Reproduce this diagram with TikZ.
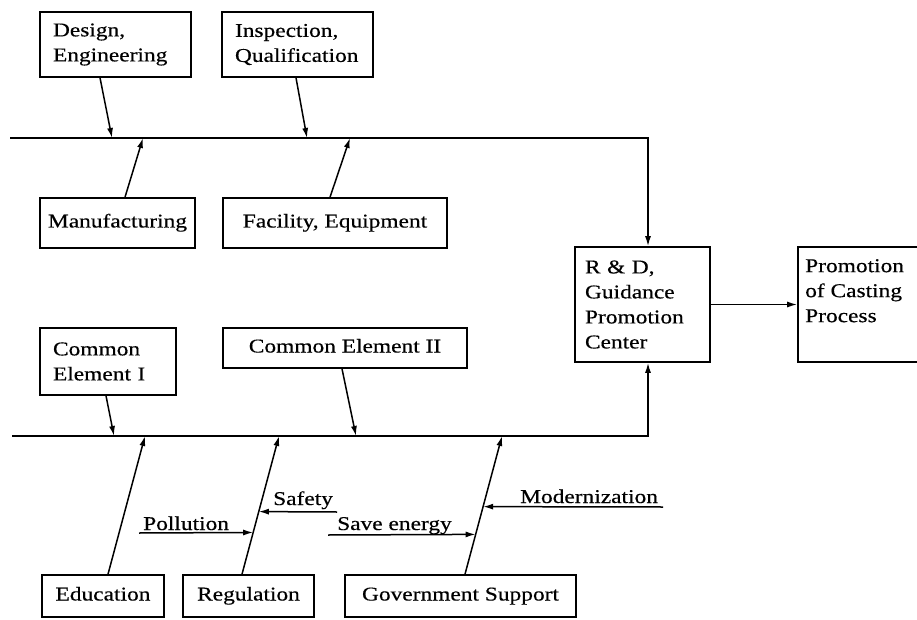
\documentclass[tikz,border=0pt]{standalone}
\usepackage{fontspec}
\setmainfont[FakeStretch=1.2,FakeBold=0.4]{Liberation Serif}
\usetikzlibrary{arrows.meta}
\begin{document}
\begin{tikzpicture}[x=1pt,y=-1pt,
  box/.style={draw, line width=1.6pt, inner sep=0pt, font=\fontsize{19.5}{25}\selectfont},
  one/.style={text height=13.5pt, text depth=4.5pt},
  lbl/.style={inner sep=0pt, anchor=base west, font=\fontsize{19.5}{25}\selectfont},
  ln/.style={line width=1.5pt},
  arr/.style={ln, -{Latex[length=10pt,width=6pt]}}]
\useasboundingbox (0,0) rectangle (917,620);
\clip (0,0) rectangle (917,620);
\fill[white] (0,0) rectangle (917,620);

% boxes
\node[box, minimum width=151pt, minimum height=65pt, text width=125pt, align=left] (des) at (115.5,44.5) {Design,\\Engineering};
\node[box, minimum width=151pt, minimum height=65pt, text width=125pt, align=left] (insp) at (297.5,44.5) {Inspection,\\Qualification};
\node[box, one, minimum width=155pt, minimum height=50pt] (man) at (117.5,223) {Manufacturing};
\node[box, one, minimum width=224pt, minimum height=50pt] (fac) at (335,223) {Facility, Equipment};
\node[box, minimum width=136pt, minimum height=67pt, text width=110pt, align=left] (ce1) at (108,361.5) {Common\\Element I};
\node[box, one, minimum width=244pt, minimum height=40pt] (ce2) at (345,348) {Common Element II};
\node[box, one, minimum width=122pt, minimum height=42pt] (edu) at (103,596) {Education};
\node[box, one, minimum width=131pt, minimum height=42pt] (reg) at (248.5,596) {Regulation};
\node[box, one, minimum width=231pt, minimum height=42pt] (gov) at (460.5,596) {Government Support};
\node[box, minimum width=135pt, minimum height=115pt, text width=115pt, align=left] (rd) at (642.5,304.5) {R \& D,\\Guidance\\Promotion\\Center};
\node[box, minimum width=142pt, minimum height=115pt] (prombox) at (869,304.5) {};
\node[lbl, anchor=north west, align=left] (promtxt) at (805,259) {Promotion\\of Casting\\Process};

% spines
\coordinate (ts) at (10,138);
\coordinate (tc) at (648,138);
\draw[arr] (ts) -- (tc) -- (tc |- rd.north);
\coordinate (bs) at (12,436);
\coordinate (bc) at (648,436);
\draw[arr] (bs) -- (bc) -- (bc |- rd.south);

\draw[arr] (rd.east) -- (rd.east -| prombox.west);

% branch junctions
\coordinate (jd) at (112,138);
\coordinate (jm) at (143,138);
\coordinate (ji) at (307,138);
\coordinate (jf) at (350,138);
\coordinate (jc1) at (114,436);
\coordinate (jc2) at (356,436);
\coordinate (je) at (145,436);
\coordinate (jr) at (279,436);
\coordinate (jg) at (502,436);

\draw[arr] ([xshift=-15.5pt]des.south) -- (jd);
\draw[arr] ([xshift=7.5pt]man.north) -- (jm);
\draw[arr] ([xshift=-1.5pt]insp.south) -- (ji);
\draw[arr] ([xshift=-5pt]fac.north) -- (jf);
\draw[arr] ([xshift=-2pt]ce1.south) -- (jc1);
\draw[arr] ([xshift=-3pt]ce2.south) -- (jc2);
\draw[arr] ([xshift=5pt]edu.north) -- (je);
\draw[arr] ([xshift=-6.5pt]reg.north) -- coordinate[pos=0.302] (rpoll) coordinate[pos=0.453] (rsafe) (jr);
\draw[arr] ([xshift=4.5pt]gov.north) -- coordinate[pos=0.288] (gsave) coordinate[pos=0.489] (gmod) (jg);

% labels with underline arrows
\node[lbl] (poll) at (143,530) {Pollution};
\node[lbl] (safe) at (273,505) {Safety};
\node[lbl] (save) at (337,530) {Save energy};
\node[lbl] (mod) at (520,503) {Modernization};

\coordinate (pa) at (139,533);
\coordinate (sa) at (337,512);
\coordinate (sea) at (328,535);
\coordinate (ma) at (663,507);
\draw[arr] (pa) -- (rpoll);
\draw[arr] (sa) -- (rsafe);
\draw[arr] (sea) -- (gsave);
\draw[arr] (ma) -- (gmod);
\end{tikzpicture}
\end{document}
